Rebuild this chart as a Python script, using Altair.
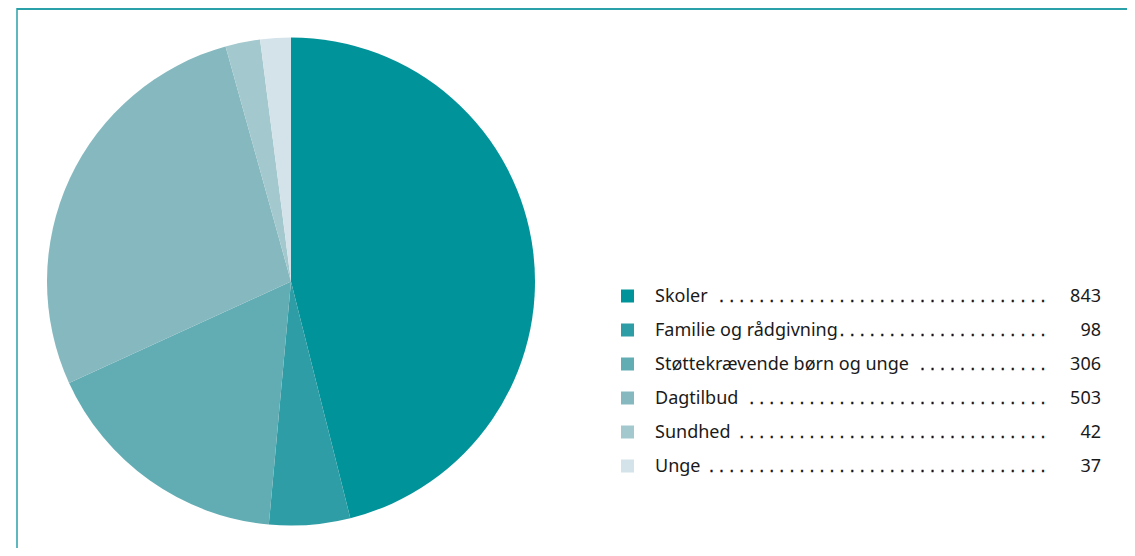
import altair as alt
import pandas as pd

categories = ["Skoler", "Familie og rådgivning", "Støttekrævende børn og unge",
              "Dagtilbud", "Sundhed", "Unge"]
values = [843, 98, 306, 503, 42, 37]
leader_dots = [33, 21, 13, 30, 31, 34]
colors = ["#00939a", "#2f9da5", "#62adb3", "#85b8bf", "#a3c8ce", "#d4e3ea"]

FONT = "Noto Sans"
df = pd.DataFrame({
    "category": categories,
    "value": values,
    "order": list(range(len(categories))),
    "row": list(range(len(categories))),
})
df["leader"] = [" ." * n for n in leader_dots]
one = pd.DataFrame({"a": [0]})

color = alt.Color("category:N", scale=alt.Scale(domain=categories, range=colors), legend=None)
ypos = alt.Y("row:Q", scale=alt.Scale(domain=[0, 5], range=[288, 458]), axis=None)

pie = alt.Chart(df).mark_arc(outerRadius=244).encode(
    theta=alt.Theta("value:Q", stack=True),
    color=color,
    order=alt.Order("order:Q"),
    x=alt.value(283),
    y=alt.value(273.5),
)

squares = alt.Chart(df).mark_square(size=169, opacity=1).encode(
    x=alt.value(619.5), y=ypos, color=color
)

leaders = alt.Chart(df).mark_text(
    align="right", baseline="alphabetic", dy=6, font="DejaVu Sans", fontSize=15.8,
    fill="#111111", stroke="#111111", strokeWidth=0.4
).encode(x=alt.value(1037.5), y=ypos, text="leader:N")

labels = alt.Chart(df).mark_text(
    align="left", baseline="alphabetic", dy=6, font=FONT, fontSize=18, fill="#1a1a1a"
).encode(x=alt.value(647), y=ypos, text="category:N")

nums = alt.Chart(df).mark_text(
    align="right", baseline="alphabetic", dy=6, font=FONT, fontSize=18, fill="#1a1a1a"
).encode(x=alt.value(1093), y=ypos, text="value:Q")

frame_top = alt.Chart(one).mark_rule(color="#2aa0a8", strokeWidth=2).encode(
    x=alt.value(9), x2=alt.value(1119), y=alt.value(1)
)
frame_left = alt.Chart(one).mark_rule(color="#2aa0a8", strokeWidth=1.5).encode(
    x=alt.value(9), y=alt.value(0), y2=alt.value(540)
)

chart = alt.layer(
    frame_top, frame_left, pie, squares, leaders, labels, nums
).properties(
    width=1119, height=540, padding=0, autosize=alt.AutoSizeParams(type="none"),
    background="white"
).configure_view(stroke=None)

chart.save("out.html", embed_options={"renderer": "svg", "actions": False})
